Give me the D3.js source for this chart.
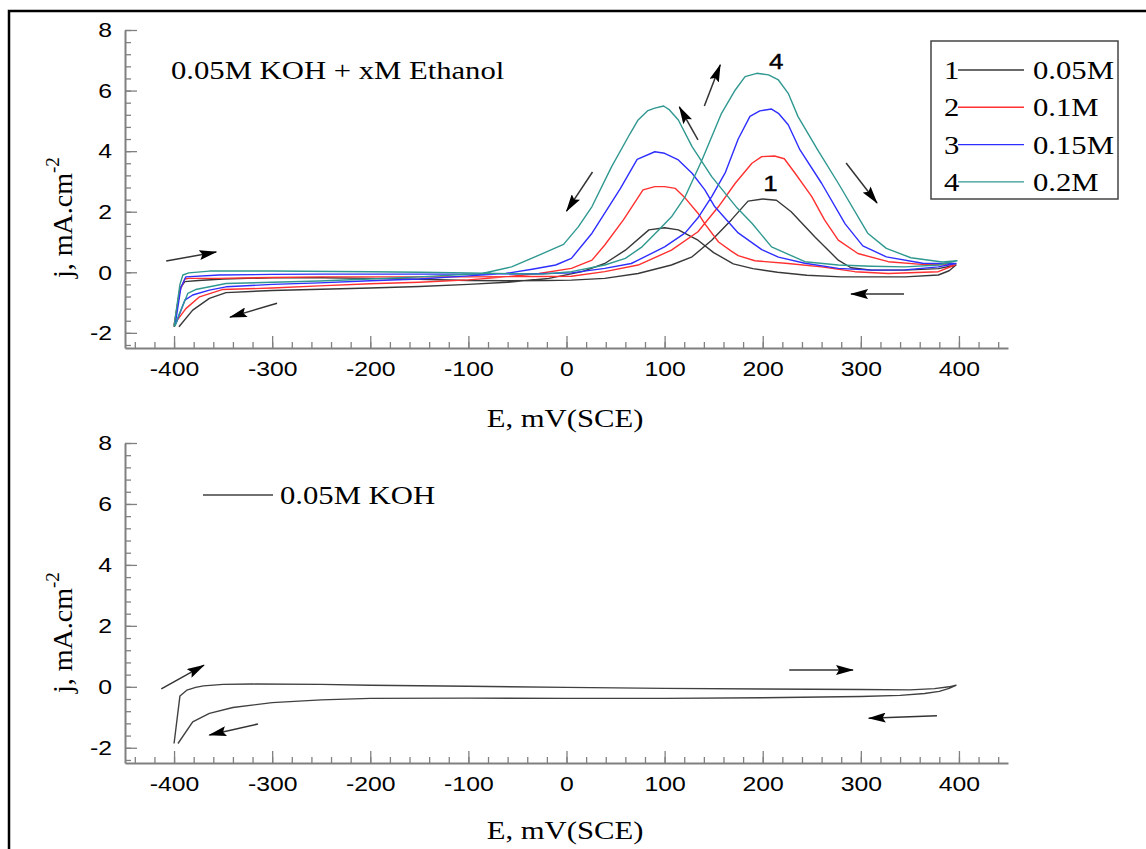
<!DOCTYPE html>
<html><head><meta charset="utf-8">
<script src="https://cdn.jsdelivr.net/npm/d3@7"></script>
<style>body{margin:0;background:#fff} svg{display:block}</style>
</head><body><svg id="c" width="1146" height="849"></svg>
<script>
// ---------- DATA ----------
const xTicks = [-400,-300,-200,-100,0,100,200,300,400];
const yTicks = [-2,0,2,4,6,8];
const seriesIds = ["1","2","3","4"];
const concentrations = ["0.05M","0.1M","0.15M","0.2M"];
const seriesColors = ["#383838","#ff3030","#2e2eff","#2f9890"];

// E (mV) , j (mA/cm2) ; forward scan then reverse scan
const curve1 = [[-400,-1.8],[-394,-0.53],[-389,-0.31],[-375,-0.27],[-350,-0.22],[-300,-0.18],[-250,-0.18],[-200,-0.2],[-150,-0.23],[-100,-0.27],[-60,-0.28],[-20,-0.27],[5,-0.26],[39,-0.2],[73,-0.04],[107,0.24],[128,0.51],[148,1.06],[168,1.73],[185,2.35],[200,2.42],[214,2.38],[229,2.0],[253,1.17],[277,0.4],[290,0.15],[311,0.07],[345,0.07],[379,0.12],[397,0.24],
  [390,0.05],[379,-0.09],[345,-0.15],[280,-0.15],[245,-0.1],[215,0.0],[190,0.12],[170,0.28],[150,0.65],[134,1.06],[114,1.4],[100,1.47],[84,1.4],[60,0.73],[39,0.29],[16,0.02],[-18,-0.2],[-60,-0.33],[-100,-0.4],[-150,-0.47],[-200,-0.52],[-250,-0.56],[-300,-0.6],[-347,-0.67],[-364,-0.86],[-381,-1.25],[-395,-1.8]];
const curve2 = [[-400,-1.75],[-394,-0.6],[-389,-0.22],[-385,-0.2],[-354,-0.2],[-300,-0.17],[-250,-0.15],[-200,-0.15],[-100,-0.15],[-30,-0.14],[5,-0.13],[39,0.02],[73,0.24],[107,0.73],[134,1.34],[155,2.17],[172,2.94],[189,3.6],[199,3.82],[212,3.84],[222,3.75],[233,3.27],[250,2.5],[263,1.73],[277,1.06],[297,0.62],[328,0.35],[362,0.26],[396,0.24],
  [379,0.02],[328,-0.04],[294,0.02],[260,0.18],[226,0.29],[192,0.38],[175,0.55],[168,0.7],[155,1.0],[141,1.6],[134,1.95],[121,2.45],[111,2.77],[100,2.83],[90,2.83],[78,2.72],[58,1.73],[39,0.9],[26,0.4],[5,0.13],[-28,-0.04],[-62,-0.15],[-100,-0.25],[-150,-0.33],[-200,-0.38],[-252,-0.45],[-300,-0.52],[-351,-0.57],[-374,-0.81],[-388,-1.2],[-398,-1.64],[-400,-1.75]];
const curve3 = [[-399,-1.75],[-393,-0.5],[-388,-0.15],[-354,-0.09],[-300,-0.07],[-250,-0.06],[-200,-0.06],[-100,-0.06],[-30,-0.05],[5,-0.02],[39,0.13],[66,0.29],[73,0.4],[100,0.84],[121,1.3],[134,1.8],[148,2.5],[162,3.3],[175,4.4],[187,5.15],[197,5.33],[209,5.39],[216,5.25],[226,4.87],[238,4.04],[260,2.94],[284,1.6],[302,0.87],[326,0.51],[363,0.3],[397,0.29],
  [379,0.18],[345,0.08],[311,0.07],[277,0.13],[243,0.3],[216,0.5],[199,0.75],[175,1.3],[151,2.17],[141,2.72],[128,3.27],[114,3.71],[100,3.93],[90,3.98],[72,3.73],[55,2.77],[26,1.29],[5,0.46],[-11,0.24],[-35,0.1],[-62,-0.04],[-100,-0.12],[-150,-0.22],[-200,-0.28],[-252,-0.35],[-300,-0.4],[-347,-0.48],[-364,-0.59],[-381,-0.75],[-389,-0.92],[-398,-1.69]];
const curve4 = [[-400,-1.78],[-394,-0.4],[-391,-0.09],[-385,-0.02],[-364,0.04],[-300,0.04],[-200,0.02],[-150,0.0],[-100,-0.02],[-50,-0.05],[-25,-0.06],[5,0.02],[39,0.24],[60,0.46],[77,0.84],[94,1.4],[107,1.83],[121,2.5],[138,3.7],[158,5.25],[172,6.02],[182,6.46],[194,6.57],[206,6.52],[216,6.35],[226,5.91],[236,5.14],[256,4.04],[277,2.94],[307,1.29],[326,0.79],[351,0.48],[383,0.34],[398,0.38],
  [379,0.24],[345,0.18],[311,0.2],[277,0.24],[243,0.35],[209,0.84],[189,1.62],[174,2.12],[148,3.16],[128,4.15],[114,5.03],[105,5.36],[99,5.49],[90,5.42],[83,5.34],[73,5.03],[65,4.59],[46,3.49],[26,2.17],[12,1.5],[-3,0.92],[-28,0.57],[-56,0.18],[-86,-0.04],[-150,-0.15],[-200,-0.22],[-252,-0.29],[-300,-0.33],[-347,-0.37],[-378,-0.57],[-386,-0.7],[-395,-1.4],[-399,-1.78]];
const kohCurve = [[-400,-1.86],[-394,-0.3],[-387,-0.11],[-378,-0.02],[-370,0.03],[-350,0.08],[-320,0.09],[-250,0.08],[-200,0.05],[-100,0.02],[0,-0.02],[100,-0.05],[200,-0.07],[300,-0.09],[350,-0.1],[375,-0.06],[390,0.0],[397,0.05],
  [390,-0.05],[380,-0.15],[365,-0.22],[340,-0.28],[300,-0.32],[200,-0.36],[100,-0.38],[0,-0.38],[-100,-0.37],[-200,-0.38],[-250,-0.43],[-300,-0.52],[-340,-0.68],[-364,-0.87],[-381,-1.15],[-396,-1.86]];

// scan-direction arrows: [E0, j0, E1, j1] (tail -> head)
const arrowsTop = [[-408,0.37,-357,0.67],[-295,-1.02,-343,-1.48],[26.5,3.31,0,2.02],[134,4.37,115,5.46],[140.5,5.49,156.7,6.85],[285,3.61,316.5,2.29],[344,-0.72,290,-0.72]];
const arrowsBottom = [[-413,-0.07,-369.5,0.71],[-314.5,-1.22,-364,-1.58],[227,0.55,292,0.55],[377.6,-0.95,308,-1.03]];
const curveLabels = [["4",213.7,6.98],["1",208,2.95]];

// ---------- DRAW ----------
const svg = d3.select("#c");
const SX = 1.18; // horizontal text stretch of the original
const x = d3.scaleLinear().domain([-450,450]).range([125,1008]);

svg.append("rect").attr("x",9).attr("y",11).attr("width",1170).attr("height",870)
  .attr("fill","none").attr("stroke","#000").attr("stroke-width",2.5);

const defs = svg.append("defs");
defs.append("marker").attr("id","ah").attr("viewBox","0 0 18 10").attr("refX",17).attr("refY",5)
  .attr("markerWidth",18).attr("markerHeight",10).attr("markerUnits","userSpaceOnUse").attr("orient","auto")
  .append("path").attr("d","M0,0 L18,5 L0,10 L3,5 Z").attr("fill","#000");

function stretchText(sel){
  sel.each(function(){
    const t = d3.select(this);
    const px = +t.attr("x")||0, py = +t.attr("y")||0;
    t.attr("x",0).attr("y",0).attr("transform",`translate(${px},${py}) scale(${SX},1)`);
  });
}

function panel(y0, y1, curves, colors, arrows, titleOffset){
  const y = d3.scaleLinear().domain([-2.5,8]).range([y1,y0]);
  const g = svg.append("g");
  const minorY = d3.range(-2.4, 8.01, 0.4).map(v=>+v.toFixed(2));
  const minorX = d3.range(-440, 441, 20);
  g.append("g").attr("transform",`translate(${x.range()[0]},0)`)
    .call(d3.axisLeft(y).tickValues(minorY).tickSize(-6).tickFormat("").tickSizeOuter(0))
    .call(a=>a.select(".domain").remove())
    .selectAll("line").attr("stroke","#808080").attr("stroke-width",1.3);
  g.append("g").attr("transform",`translate(0,${y1})`)
    .call(d3.axisBottom(x).tickValues(minorX).tickSize(-6).tickFormat("").tickSizeOuter(0))
    .call(a=>a.select(".domain").remove())
    .selectAll("line").attr("stroke","#808080").attr("stroke-width",1.3);
  const ya = g.append("g").attr("transform",`translate(${x.range()[0]},0)`)
    .call(d3.axisLeft(y).tickValues(yTicks).tickFormat(d=>String(d)).tickSize(-12).tickPadding(13).tickSizeOuter(0));
  const xa = g.append("g").attr("transform",`translate(0,${y1})`)
    .call(d3.axisBottom(x).tickValues(xTicks).tickFormat(d=>String(d)).tickSize(-12).tickPadding(13).tickSizeOuter(0));
  [ya,xa].forEach(a=>{
    a.select(".domain").attr("stroke","#808080").attr("stroke-width",2);
    a.selectAll(".tick line").attr("stroke","#808080").attr("stroke-width",1.3);
    a.selectAll("text").attr("font-family","'Liberation Sans', Arial, sans-serif").attr("font-size",21).attr("fill","#000");
  });
  ya.selectAll("text").call(stretchText);
  xa.selectAll("text").call(stretchText);

  const line = d3.line().x(d=>x(d[0])).y(d=>y(d[1]));
  curves.forEach((c,i)=>{
    g.append("path").datum(c).attr("d",line).attr("fill","none")
      .attr("stroke",colors[i]).attr("stroke-width",1.4).attr("stroke-linejoin","round");
  });
  g.selectAll(".arr").data(arrows).join("line").attr("class","arr")
    .attr("x1",d=>x(d[0])).attr("y1",d=>y(d[1])).attr("x2",d=>x(d[2])).attr("y2",d=>y(d[3]))
    .attr("stroke","#333").attr("stroke-width",1.5).attr("marker-end","url(#ah)");

  const yl = g.append("text").attr("transform",`translate(72,${y(-2.5)-70}) rotate(-90)`)
    .attr("font-family","'Liberation Serif','Times New Roman',serif").attr("font-size",28).attr("fill","#000");
  yl.append("tspan").text("j, mA.cm");
  yl.append("tspan").attr("font-size",19).attr("dy",-13).text("-2");
  g.append("text").attr("text-anchor","middle").attr("transform",`translate(565,${y1+titleOffset}) scale(${SX},1)`)
    .attr("font-family","'Liberation Serif','Times New Roman',serif").attr("font-size",26).attr("fill","#000")
    .text("E, mV(SCE)");
  return {g,y};
}

const topP = panel(30, 348, [curve1,curve2,curve3,curve4], seriesColors, arrowsTop, 79);
const botP = panel(443, 763, [kohCurve], ["#404040"], arrowsBottom, 76);

const serif = "'Liberation Serif','Times New Roman',serif";
topP.g.append("text").attr("transform",`translate(171,79) scale(${SX},1)`)
  .attr("font-family",serif).attr("font-size",26).text("0.05M KOH + xM Ethanol");
topP.g.selectAll(".cl").data(curveLabels).join("text").attr("class","cl")
  .attr("transform",d=>`translate(${x(d[1])},${topP.y(d[2])+8}) scale(${SX},1)`)
  .attr("text-anchor","middle").attr("font-family","'Liberation Sans', Arial, sans-serif").attr("font-size",22)
  .attr("stroke","#000").attr("stroke-width",0.4)
  .text(d=>d[0]);

const lg = topP.g.append("g");
lg.append("rect").attr("x",931).attr("y",41).attr("width",187).attr("height",158)
  .attr("fill","#fff").attr("stroke","#444").attr("stroke-width",1.5);
seriesIds.forEach((id,i)=>{
  const cy = 70 + i*37.3;
  lg.append("text").attr("transform",`translate(944,${cy+9}) scale(${SX},1)`)
    .attr("font-family",serif).attr("font-size",26).text(id);
  lg.append("line").attr("x1",958).attr("x2",1024).attr("y1",cy).attr("y2",cy)
    .attr("stroke",seriesColors[i]).attr("stroke-width",1.4);
  lg.append("text").attr("transform",`translate(1033,${cy+9}) scale(${SX},1)`)
    .attr("font-family",serif).attr("font-size",26).text(concentrations[i]);
});

botP.g.append("line").attr("x1",203).attr("x2",273).attr("y1",495).attr("y2",495)
  .attr("stroke","#404040").attr("stroke-width",1.4);
botP.g.append("text").attr("transform",`translate(280,504) scale(${SX},1)`)
  .attr("font-family",serif).attr("font-size",26).text("0.05M KOH");
</script></body></html>
